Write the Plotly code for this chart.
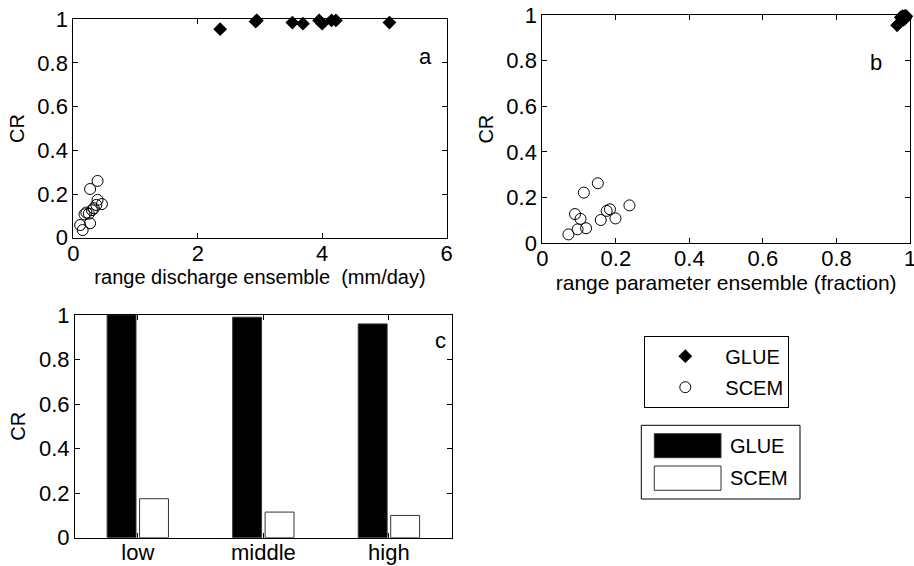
import plotly.graph_objects as go

W, H = 914, 566

# ---------------- data ----------------
# panel a: CR vs range of discharge ensemble (mm/day)
glue_a_x = [2.36, 2.93, 2.95, 3.52, 3.69, 3.95, 4.00, 4.15, 4.22, 5.08]
glue_a_y = [0.955, 0.990, 0.995, 0.985, 0.980, 0.995, 0.980, 0.995, 0.995, 0.985]
scem_a_x = [0.11, 0.15, 0.27, 0.18, 0.25, 0.21, 0.30, 0.33, 0.37, 0.39, 0.46, 0.27, 0.39]
scem_a_y = [0.058, 0.035, 0.066, 0.107, 0.110, 0.115, 0.126, 0.135, 0.150, 0.173, 0.154, 0.223, 0.260]

# panel b: CR vs range of parameter ensemble (fraction)
glue_b_x = [0.965, 0.975, 0.980, 0.978, 0.982, 0.985, 0.983, 0.988, 0.990, 0.987]
glue_b_y = [0.955, 0.990, 0.995, 0.985, 0.980, 0.995, 0.980, 0.995, 0.995, 0.985]
scem_b_x = [0.071, 0.096, 0.119, 0.089, 0.104, 0.113, 0.151, 0.159, 0.175, 0.184, 0.199, 0.237]
scem_b_y = [0.039, 0.061, 0.066, 0.128, 0.107, 0.222, 0.263, 0.102, 0.142, 0.149, 0.109, 0.166]

# panel c: CR per flow class
classes = ["low", "middle", "high"]
glue_c = [1.0, 0.99, 0.96]
scem_c = [0.175, 0.115, 0.10]

y_ticks = [0, 0.2, 0.4, 0.6, 0.8, 1]
y_ticktext = ["0", "0.2", "0.4", "0.6", "0.8", "1"]
xa_ticks = [0, 2, 4, 6]
xb_ticks = [0, 0.2, 0.4, 0.6, 0.8, 1]
xb_ticktext = ["0", "0.2", "0.4", "0.6", "0.8", "1"]

FONT = "Liberation Sans, Arial, sans-serif"
FS = 22      # tick labels
TFS = 20     # axis titles
LFS = 20     # legends

def px_x(p):
    return p / W

def px_y(p):
    return 1 - p / H

fig = go.Figure()

diamond = dict(symbol="diamond", size=9, color="black", line=dict(color="black", width=1.5))
circle = dict(symbol="circle-open", size=11, color="black", line=dict(color="black", width=1))

fig.add_trace(go.Scatter(x=glue_a_x, y=glue_a_y, mode="markers", marker=diamond, name="GLUE",
                         xaxis="x", yaxis="y", cliponaxis=False, legendgroup="g", showlegend=True))
fig.add_trace(go.Scatter(x=scem_a_x, y=scem_a_y, mode="markers", marker=circle, name="SCEM",
                         xaxis="x", yaxis="y", cliponaxis=False, legendgroup="s", showlegend=True))
fig.add_trace(go.Scatter(x=glue_b_x, y=glue_b_y, mode="markers", marker=diamond, name="GLUE",
                         xaxis="x2", yaxis="y2", cliponaxis=False, showlegend=False))
fig.add_trace(go.Scatter(x=scem_b_x, y=scem_b_y, mode="markers", marker=circle, name="SCEM",
                         xaxis="x2", yaxis="y2", cliponaxis=False, showlegend=False))
fig.add_trace(go.Bar(x=classes, y=glue_c, name="GLUE", marker=dict(color="black", line=dict(color="#333", width=1)),
                     xaxis="x3", yaxis="y3", showlegend=False))
fig.add_trace(go.Bar(x=classes, y=scem_c, name="SCEM", marker=dict(color="white", line=dict(color="#333", width=1)),
                     xaxis="x3", yaxis="y3", showlegend=False))

axis_common = dict(showline=True, linecolor="black", linewidth=1, mirror="ticks", ticks="inside",
                   ticklen=5, tickcolor="black", showgrid=False, zeroline=False, automargin=False,
                   ticklabeloverflow="allow",
                   tickfont=dict(family=FONT, size=FS, color="black"))

def ttl(text, standoff, size=TFS):
    return dict(text=text, standoff=standoff, font=dict(family=FONT, size=size, color="black"))

fig.update_layout(
    width=W, height=H, margin=dict(l=0, r=0, t=0, b=0),
    paper_bgcolor="white", plot_bgcolor="white", template=None,
    font=dict(family=FONT, size=FS, color="black"),
    barmode="group", bargap=0.483, bargroupgap=0.11,
    xaxis=dict(domain=[px_x(73.3), px_x(446.7)], range=[0, 6], tickvals=xa_ticks, anchor="y",
               title=ttl("range discharge ensemble \u00a0(mm/day)", 2), ticklabelstandoff=-4, **axis_common),
    yaxis=dict(domain=[px_y(237.7), px_y(19.3)], range=[0, 1], tickvals=y_ticks, ticktext=y_ticktext,
               anchor="x", title=ttl("CR", 7), **axis_common),
    xaxis2=dict(domain=[px_x(542.3), px_x(910)], range=[0, 1], tickvals=xb_ticks, ticktext=xb_ticktext,
                anchor="y2", title=ttl("\u00a0\u00a0\u00a0range parameter ensemble (fraction)", 2, 21),
                ticklabelstandoff=-5, **axis_common),
    yaxis2=dict(domain=[px_y(243.3), px_y(15)], range=[0, 1], tickvals=y_ticks, ticktext=y_ticktext,
                anchor="x2", title=ttl("CR", 7), **axis_common),
    xaxis3=dict(domain=[px_x(75), px_x(451.7)], range=[-0.5, 2.5], type="category", anchor="y3",
                ticklabelstandoff=-5, **axis_common),
    yaxis3=dict(domain=[px_y(537.7), px_y(315)], range=[0, 1], tickvals=y_ticks, ticktext=y_ticktext,
                anchor="x3", title=ttl("CR", 7), **axis_common),
    legend=dict(x=px_x(644.3), y=px_y(335.7), xanchor="left", yanchor="top", bgcolor="white",
                bordercolor="black", borderwidth=1, itemwidth=70, tracegroupgap=2,
                entrywidth=150, entrywidthmode="pixels",
                font=dict(family=FONT, size=LFS, color="black")),
)

# panel letters
for txt, xp, yp in [("a", 425, 42), ("b", 884.3, 48), ("c", 440, 340)]:
    fig.add_annotation(text=txt, x=px_x(xp), y=px_y(yp), xref="paper", yref="paper",
                       showarrow=False, font=dict(family=FONT, size=FS, color="black"))

# second legend box (bar legend)
fig.add_shape(type="rect", xref="paper", yref="paper", x0=px_x(641.3), x1=px_x(800), y0=px_y(499), y1=px_y(425.3),
              line=dict(color="black", width=1), fillcolor="white", layer="above")
fig.add_shape(type="rect", xref="paper", yref="paper", x0=px_x(654.3), x1=px_x(721), y0=px_y(457.7), y1=px_y(433.7),
              line=dict(color="#333", width=1), fillcolor="black", layer="above")
fig.add_shape(type="rect", xref="paper", yref="paper", x0=px_x(654.3), x1=px_x(721), y0=px_y(490.3), y1=px_y(466),
              line=dict(color="#333", width=1), fillcolor="white", layer="above")
for txt, yp in [("GLUE", 446), ("SCEM", 478.3)]:
    fig.add_annotation(text=txt, x=px_x(727.5), y=px_y(yp), xref="paper", yref="paper", xanchor="left",
                       yanchor="middle", showarrow=False, font=dict(family=FONT, size=LFS, color="black"))

fig.write_html("out.html")
